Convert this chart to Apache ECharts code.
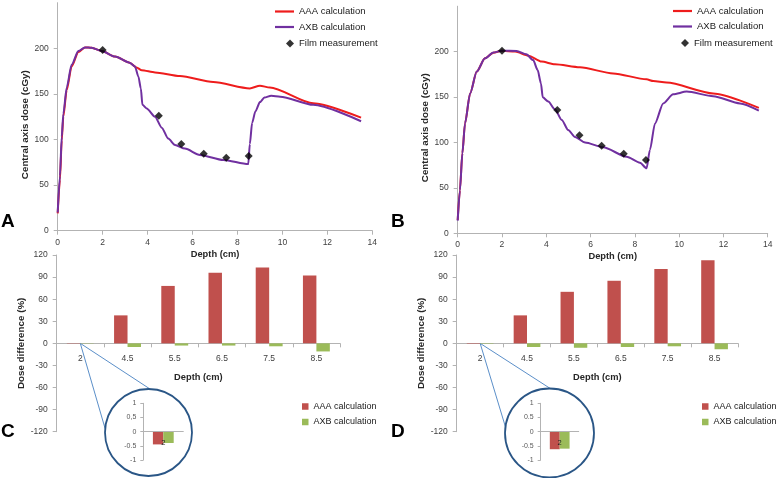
<!DOCTYPE html>
<html><head><meta charset="utf-8">
<script src="https://cdn.jsdelivr.net/npm/echarts@6/dist/echarts.min.js"></script>
<style>html,body{margin:0;padding:0;background:#fff}#c{width:778px;height:478px}</style>
</head><body><div id="c"></div>
<script>
// ---- Panel A (depth cm, dose cGy) ----
const aDepthAAA = [0, 0.1, 0.18, 0.25, 0.4, 0.62, 0.92, 1.21, 1.51, 1.96, 2.55, 3.22, 3.51, 3.74, 4.33, 5.44, 6.92, 8.55, 9.0, 9.44, 11.37, 13.5];
const aDoseAAA  = [19, 56, 99, 125, 154, 180, 196, 201, 200.5, 197, 191, 184, 179, 176, 173.6, 169.6, 163, 156, 159, 157, 139.7, 124];
const aDepthAXB = [0, 0.1, 0.18, 0.25, 0.4, 0.62, 0.92, 1.21, 1.51, 1.96, 2.55, 3.22, 3.44, 3.59, 3.7, 3.77, 3.96, 4.33, 4.63, 4.92, 5.22, 5.66, 6.33, 7.37, 8.48, 8.55, 8.65, 8.8, 9.0, 9.2, 9.5, 9.9, 11.37, 13.5];
const aDoseAXB  = [20, 60, 103, 128, 157, 182, 197, 201, 200.5, 197, 191, 184, 180, 169, 156, 138, 134, 125, 113, 101, 94, 90, 83, 77.5, 73, 95, 118, 131, 141, 146, 148, 147, 138, 120];
// ---- Panel B ----
const bDepthAAA = [0, 0.1, 0.21, 0.33, 0.56, 0.86, 1.23, 1.61, 1.99, 2.59, 3.19, 3.79, 4.39, 5.52, 7.02, 8.53, 8.83, 9.43, 11.54, 13.6];
const bDoseAAA  = [14.6, 47.7, 88, 121, 154, 178, 192.6, 198.8, 201, 200, 195.5, 189, 186, 182.7, 176, 169.5, 167.6, 166, 154, 138];
const bDepthAXB = [0, 0.1, 0.21, 0.33, 0.56, 0.86, 1.23, 1.61, 1.99, 2.66, 3.1, 3.41, 3.61, 3.76, 3.84, 4.09, 4.39, 4.7, 4.99, 5.3, 5.75, 6.57, 7.63, 8.23, 8.53, 8.68, 8.91, 9.28, 9.73, 10.34, 11.54, 12.75, 13.6];
const bDoseAXB  = [14, 47, 88, 121, 154, 178, 192.6, 199, 201, 200.7, 197, 190.7, 179.7, 165, 149.7, 145, 136.5, 124.7, 113.7, 106, 100, 94.7, 84.3, 77.7, 71.5, 91.7, 121, 143, 153, 156, 151, 143, 135];
// ---- Film measurements ----
const filmDepths = [2, 4.5, 5.5, 6.5, 7.5, 8.5];
const aFilm = [198, 126, 95, 84.5, 80, 82];
const bFilm = [201, 135.7, 108, 96.4, 87.6, 80.7];
// ---- Panels C / D (dose difference %) ----
const diffCategories = ['2', '4.5', '5.5', '6.5', '7.5', '8.5'];
const cAAA = [-0.45, 38, 78, 96, 103, 92];
const cAXB = [-0.4, -5, -3, -3, -4, -11];
const dAAA = [-0.62, 38, 70, 85, 101, 113];
const dAXB = [-0.6, -5, -6, -5, -4, -8];
const doseTicksMax = 250;

const FONT = '"Liberation Sans", Arial, sans-serif';
const AXC = '#b3b3b3', TXT = '#404040';
const RED = '#ee1c1c', PUR = '#7030a0', BRED = '#c0504d', BGRN = '#9bbb59';
const zip = (xs, ys) => xs.map((x, i) => [x, ys[i]]);

const GRIDS = [
  {left: 57.7, top: 2.7, width: 314.6, height: 228},
  {left: 457.7, top: 6.2, width: 310, height: 227.1},
  {left: 56.7, top: 255, width: 283.3, height: 176.7},
  {left: 456.7, top: 255, width: 281.3, height: 176.7},
  {left: 143.3, top: 403.3, width: 40, height: 56.7},
  {left: 540.7, top: 403.3, width: 38, height: 56.7}
];
// symmetric value axes: the category axis sits on zero, i.e. half-way up the grid
const midOffset = g => -GRIDS[g].height / 2;

function depthAxis(g) {
  return {type: 'value', gridIndex: g, min: 0, max: 14, interval: 2,
    axisLine: {show: true, onZero: false, lineStyle: {color: AXC}}, axisTick: {show: true, length: 4, lineStyle: {color: AXC}},
    axisLabel: {color: TXT, fontSize: 8.5, fontFamily: FONT, margin: 7}, splitLine: {show: false},
    name: 'Depth (cm)', nameLocation: 'middle', nameGap: 19,
    nameTextStyle: {fontWeight: 'bold', fontSize: 9.3, color: '#262626', fontFamily: FONT}};
}
function doseAxis(g) {
  return {type: 'value', gridIndex: g, min: 0, max: doseTicksMax, interval: 50,
    axisLine: {show: true, lineStyle: {color: AXC}}, axisTick: {show: true, length: 4, lineStyle: {color: AXC}},
    axisLabel: {color: TXT, fontSize: 8.5, fontFamily: FONT, margin: 9, showMaxLabel: false}, splitLine: {show: false},
    name: 'Central axis dose (cGy)', nameLocation: 'middle', nameGap: 26,
    nameTextStyle: {fontWeight: 'bold', fontSize: 9.8, color: '#262626', fontFamily: FONT, padding: [0, 16, 0, 0]}};
}
function catAxis(g) {
  return {type: 'category', gridIndex: g, data: diffCategories, offset: midOffset(g),
    axisLine: {show: true, onZero: false, lineStyle: {color: AXC}}, axisTick: {show: true, length: 4, lineStyle: {color: AXC}},
    axisLabel: {color: TXT, fontSize: 8.5, fontFamily: FONT, margin: 11},
    name: 'Depth (cm)', nameLocation: 'middle', nameGap: 30,
    nameTextStyle: {fontWeight: 'bold', fontSize: 9.3, color: '#262626', fontFamily: FONT}};
}
function diffAxis(g) {
  return {type: 'value', gridIndex: g, min: -120, max: 120, interval: 30,
    axisLine: {show: true, lineStyle: {color: AXC}}, axisTick: {show: true, length: 4, lineStyle: {color: AXC}},
    axisLabel: {color: TXT, fontSize: 8.5, fontFamily: FONT, margin: 9}, splitLine: {show: false},
    name: 'Dose difference (%)', nameLocation: 'middle', nameGap: 23,
    nameTextStyle: {fontWeight: 'bold', fontSize: 9.8, color: '#262626', fontFamily: FONT}};
}
function insetX(g) {
  return {type: 'category', gridIndex: g, data: [diffCategories[0]], z: 5, offset: midOffset(g),
    axisLine: {show: true, onZero: false, lineStyle: {color: AXC}}, axisTick: {show: false},
    axisLabel: {color: '#222', fontSize: 7.5, fontFamily: FONT, margin: 7}};
}
function insetY(g, comma) {
  return {type: 'value', gridIndex: g, min: -1, max: 1, interval: 0.5,
    axisLine: {show: true, lineStyle: {color: AXC}}, axisTick: {show: true, length: 3, lineStyle: {color: AXC}},
    axisLabel: {color: '#595959', fontSize: 7, fontFamily: FONT, margin: 7,
      formatter: v => (comma && v === 0.5) ? '0,5' : String(v)}, splitLine: {show: false}};
}
const lineS = (name, xi, xs, ys, color) => ({type: 'line', name, xAxisIndex: xi, yAxisIndex: xi,
  data: zip(xs, ys), symbol: 'none', smooth: 0.25, smoothMonotone: 'x', lineStyle: {color, width: 2}, itemStyle: {color}, z: 3});
const filmS = (xi, ys) => ({type: 'scatter', name: 'Film measurement', xAxisIndex: xi, yAxisIndex: xi,
  data: zip(filmDepths, ys), symbol: 'diamond', symbolSize: 8, itemStyle: {color: '#000'}, z: 5});
const barS = (name, xi, data, color, cat) => ({type: 'bar', name, xAxisIndex: xi, yAxisIndex: xi, data,
  itemStyle: {color}, barGap: '0%', barCategoryGap: cat});

const legTxt = {fontSize: 9.5, fontFamily: FONT, color: '#1a1a1a'};
const barTxt = {fontSize: 9, fontFamily: FONT, color: '#1a1a1a'};
const lineLegData = [{name: 'AAA calculation', itemStyle: {color: RED}}, {name: 'AXB calculation', itemStyle: {color: PUR}}];
const barLegData = [{name: 'AAA calculation', itemStyle: {color: BRED, borderWidth: 0}},
                    {name: 'AXB calculation', itemStyle: {color: BGRN, borderWidth: 0}}];
const lineLeg = (left, top) => ({left, top, padding: 0, orient: 'vertical', icon: 'rect', itemWidth: 19, itemHeight: 2.2,
  itemGap: 5.5, selectedMode: false, data: lineLegData, textStyle: legTxt});
const filmLeg = (left, top) => ({left, top, padding: 0, itemWidth: 8, itemHeight: 8, selectedMode: false,
  data: ['Film measurement'], textStyle: legTxt});
const barLeg = (left, top) => ({left, top, padding: 0, orient: 'vertical', icon: 'rect', itemWidth: 6.5, itemHeight: 6.5,
  itemGap: 6.5, selectedMode: false, data: barLegData, textStyle: barTxt});

const option = {
  animation: false,
  backgroundColor: '#fff',
  grid: GRIDS,
  xAxis: [depthAxis(0), depthAxis(1), catAxis(2), catAxis(3), insetX(4), insetX(5)],
  yAxis: [doseAxis(0), doseAxis(1), diffAxis(2), diffAxis(3), insetY(4, true), insetY(5, false)],
  legend: [lineLeg(275, 6.5), filmLeg(286, 38.5), lineLeg(673, 6), filmLeg(681, 38),
           barLeg(302, 402), barLeg(702, 402)],
  series: [
    lineS('AAA calculation', 0, aDepthAAA, aDoseAAA, RED),
    lineS('AXB calculation', 0, aDepthAXB, aDoseAXB, PUR),
    filmS(0, aFilm),
    lineS('AAA calculation', 1, bDepthAAA, bDoseAAA, RED),
    lineS('AXB calculation', 1, bDepthAXB, bDoseAXB, PUR),
    filmS(1, bFilm),
    barS('AAA calculation', 2, cAAA, BRED, '43%'),
    barS('AXB calculation', 2, cAXB, BGRN, '43%'),
    barS('AAA calculation', 3, dAAA, BRED, '43%'),
    barS('AXB calculation', 3, dAXB, BGRN, '43%'),
    barS('AAA calculation', 4, [cAAA[0]], BRED, '48%'),
    barS('AXB calculation', 4, [cAXB[0]], BGRN, '48%'),
    barS('AAA calculation', 5, [dAAA[0]], BRED, '48%'),
    barS('AXB calculation', 5, [dAXB[0]], BGRN, '48%')
  ]
};
const chart = echarts.init(document.getElementById('c'));
chart.setOption(option);

// zoom-circle decorations, anchored at category "2" / value 0 of panels C and D
function zoomGraphics(gridIndex, cx, cy, r, a1, a2) {
  const p = chart.convertToPixel({gridIndex}, [0, 0]);
  const pt = a => [cx + r * Math.cos(a * Math.PI / 180), cy + r * Math.sin(a * Math.PI / 180)];
  const e1 = pt(a1), e2 = pt(a2);
  return [
    {type: 'line', shape: {x1: p[0], y1: p[1], x2: e1[0], y2: e1[1]}, style: {stroke: '#5b8fc9', lineWidth: 1}, z: 1},
    {type: 'line', shape: {x1: p[0], y1: p[1], x2: e2[0], y2: e2[1]}, style: {stroke: '#5b8fc9', lineWidth: 1}, z: 1},
    {type: 'circle', shape: {cx, cy, r}, style: {fill: 'none', stroke: '#2a5686', lineWidth: 1.8}, z: 1}
  ];
}
const letter = (t, x, y) => ({type: 'text', left: x, top: y,
  style: {text: t, font: 'bold 19px "Liberation Sans", Arial, sans-serif', fill: '#000'}, z: 10});
chart.setOption({graphic: [
  ...zoomGraphics(2, 148.5, 432.5, 43.5, 185, -88),
  ...zoomGraphics(3, 549.5, 433, 44.5, 188, -89),
  letter('A', 1, 212), letter('B', 391, 212), letter('C', 1, 422), letter('D', 391, 422)
]});
</script>
</body></html>
